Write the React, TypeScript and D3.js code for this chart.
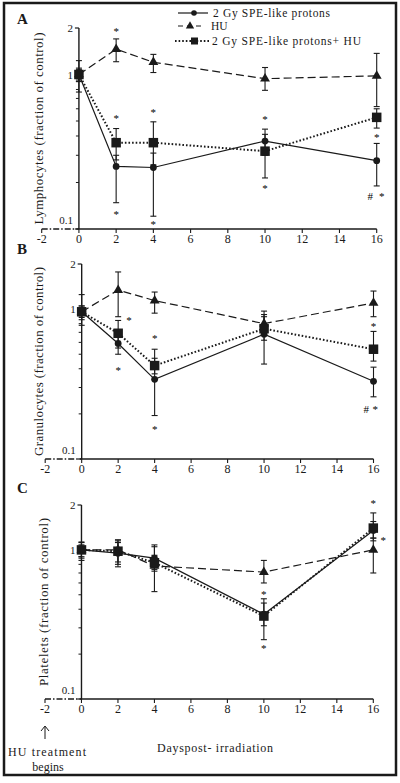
import React from "react";
import * as d3 from "d3";

const days = [0, 2, 4, 10, 16];
const xTickValues = [-2, 0, 2, 4, 6, 8, 10, 12, 14, 16];
const yMajorValues = [0.1, 1, 2];
const yMajorLabels = ["0.1", "1", "2"];
const yMinorValues = [0.2, 0.3, 0.4, 0.5, 0.6, 0.7, 0.8, 0.9];

const seriesNames = ["2 Gy SPE-like protons", "HU", "2 Gy SPE-like protons+ HU"];

// Panel A – Lymphocytes
const lymphProtons = [1.0, 0.254, 0.25, 0.371, 0.277];
const lymphProtonsLo = [0.92, 0.148, 0.121, 0.3, 0.19];
const lymphProtonsHi = [1.08, 0.3, 0.31, 0.443, 0.358];
const lymphHU = [1.0, 1.46, 1.2, 0.94, 0.98];
const lymphHULo = [0.9, 1.21, 1.03, 0.79, 0.62];
const lymphHUHi = [1.1, 1.7, 1.35, 1.11, 1.37];
const lymphCombo = [1.0, 0.362, 0.362, 0.319, 0.528];
const lymphComboLo = [0.77, 0.28, 0.26, 0.214, 0.45];
const lymphComboHi = [1.23, 0.447, 0.494, 0.41, 0.6];
const lymphMarks = [
  { day: 2, value: 1.94, label: "*" },
  { day: 2, value: 0.533, label: "*" },
  { day: 2, value: 0.1275, label: "*" },
  { day: 4, value: 0.58, label: "*" },
  { day: 4, value: 0.11, label: "*" },
  { day: 10, value: 0.52, label: "*" },
  { day: 10, value: 0.188, label: "*" },
  { day: 16, value: 0.4, label: "*" },
  { day: 15.65, value: 0.166, label: "#" },
  { day: 16.27, value: 0.166, label: "*" },
];

// Panel B – Granulocytes
const granProtons = [0.96, 0.59, 0.34, 0.68, 0.33];
const granProtonsLo = [0.85, 0.5, 0.195, 0.43, 0.26];
const granProtonsHi = [1.05, 0.68, 0.47, 0.89, 0.41];
const granHU = [0.96, 1.34, 1.14, 0.8, 1.1];
const granHULo = [0.88, 0.89, 0.94, 0.68, 0.89];
const granHUHi = [1.05, 1.77, 1.3, 0.97, 1.32];
const granCombo = [0.96, 0.69, 0.42, 0.74, 0.54];
const granComboLo = [0.78, 0.55, 0.37, 0.62, 0.45];
const granComboHi = [1.25, 0.84, 0.54, 0.92, 0.71];
const granMarks = [
  { day: 2.6, value: 0.853, label: "*" },
  { day: 2, value: 0.4, label: "*" },
  { day: 4, value: 0.654, label: "*" },
  { day: 4, value: 0.16, label: "*" },
  { day: 16, value: 0.78, label: "*" },
  { day: 15.6, value: 0.22, label: "#" },
  { day: 16.1, value: 0.22, label: "*" },
];

// Panel C – Platelets
const pltProtons = [1.0, 0.95, 0.88, 0.37, 1.35];
const pltProtonsLo = [0.88, 0.8, 0.72, 0.25, 1.15];
const pltProtonsHi = [1.12, 1.12, 1.05, 0.47, 1.55];
const pltHU = [1.0, 1.0, 0.78, 0.71, 1.0];
const pltHULo = [0.9, 0.83, 0.525, 0.6, 0.7];
const pltHUHi = [1.08, 1.17, 0.92, 0.85, 1.2];
const pltCombo = [1.0, 0.98, 0.82, 0.36, 1.4];
const pltComboLo = [0.85, 0.77, 0.74, 0.31, 1.2];
const pltComboHi = [1.13, 1.15, 1.08, 0.44, 1.77];
const pltMarks = [
  { day: 10, value: 0.51, label: "*" },
  { day: 10, value: 0.224, label: "*" },
  { day: 16, value: 2.1, label: "*" },
  { day: 16.55, value: 1.18, label: "*" },
];

const FONT = "'Liberation Serif', 'Times New Roman', serif";
const INK = "#1a1a1a";

type Series = { v: number[]; lo: number[]; hi: number[] };
type PanelProps = {
  letter: string;
  title: string;
  titleLen: number;
  xRange: [number, number];
  yRange: [number, number];
  titleX: number;
  letterY: number;
  protons: Series;
  hu: Series;
  combo: Series;
  marks: { day: number; value: number; label: string }[];
};

function Panel(p: PanelProps) {
  const x = d3.scaleLinear().domain([-2, 16]).range(p.xRange);
  const y = d3.scaleLog().domain([0.1, 2]).range(p.yRange);
  const ax = x(0);
  const base = y(0.1);
  const line = (vals: number[]) =>
    d3.line<number>().x((_, i) => x(days[i])).y((d) => y(d))(vals) || "";
  const tri = d3.symbol().type(d3.symbolTriangle).size(42)() || "";
  const errBars = (s: Series, key: string) =>
    days.map((d, i) => (
      <g key={key + i} stroke={INK} strokeWidth={1.1}>
        <line x1={x(d)} x2={x(d)} y1={y(s.lo[i])} y2={y(s.hi[i])} />
        <line x1={x(d) - 3} x2={x(d) + 3} y1={y(s.lo[i])} y2={y(s.lo[i])} />
        <line x1={x(d) - 3} x2={x(d) + 3} y1={y(s.hi[i])} y2={y(s.hi[i])} />
      </g>
    ));
  const titleY = (p.yRange[0] + p.yRange[1]) / 2;
  return (
    <g fontFamily={FONT} fill={INK}>
      <text x={17} y={p.letterY} fontSize={15} fontWeight="bold">
        {p.letter}
      </text>
      {/* y axis */}
      <line x1={ax} x2={ax} y1={p.yRange[0]} y2={p.yRange[1]} stroke={INK} strokeWidth={1.4} />
      {yMajorValues.map((v, i) => (
        <g key={"M" + v}>
          <line x1={ax - 4} x2={ax} y1={y(v)} y2={y(v)} stroke={INK} strokeWidth={1.2} />
          <text
            x={ax - 6}
            y={y(v) + (v === 0.1 ? -5 : 4)}
            fontSize={11}
            textAnchor="end"
          >
            {yMajorLabels[i]}
          </text>
        </g>
      ))}
      {yMinorValues.map((v) => (
        <line key={"m" + v} x1={ax - 3} x2={ax} y1={y(v)} y2={y(v)} stroke={INK} strokeWidth={1} />
      ))}
      {/* x axis */}
      <line x1={x(-2)} x2={ax} y1={base} y2={base} stroke={INK} strokeWidth={1.3} strokeDasharray="6,2,1.5,2" />
      <line x1={ax} x2={x(16)} y1={base} y2={base} stroke={INK} strokeWidth={1.4} />
      {xTickValues.map((t) => (
        <g key={"x" + t}>
          <line x1={x(t)} x2={x(t)} y1={base} y2={base + 4} stroke={INK} strokeWidth={1.1} />
          <text x={x(t)} y={base + 14} fontSize={12} textAnchor="middle">
            {t}
          </text>
        </g>
      ))}
      <text
        transform={`translate(${p.titleX},${titleY}) rotate(-90)`}
        fontSize={13}
        textAnchor="middle"
        dominantBaseline="central"
        textLength={p.titleLen}
        lengthAdjust="spacing"
      >
        {p.title}
      </text>
      {/* lines */}
      <path d={line(p.hu.v)} fill="none" stroke={INK} strokeWidth={1.2} strokeDasharray="8,4" />
      <path d={line(p.protons.v)} fill="none" stroke={INK} strokeWidth={1.2} />
      <path d={line(p.combo.v)} fill="none" stroke={INK} strokeWidth={2} strokeDasharray="1.6,2" />
      {/* error bars */}
      {errBars(p.hu, "eh")}
      {errBars(p.protons, "ep")}
      {errBars(p.combo, "ec")}
      {/* markers */}
      {days.map((d, i) => (
        <path key={"t" + i} d={tri} transform={`translate(${x(d)},${y(p.hu.v[i])})`} fill={INK} />
      ))}
      {days.map((d, i) => (
        <circle key={"c" + i} cx={x(d)} cy={y(p.protons.v[i])} r={3.4} fill={INK} />
      ))}
      {days.map((d, i) => (
        <rect key={"s" + i} x={x(d) - 4.75} y={y(p.combo.v[i]) - 4.75} width={9.5} height={9.5} fill={INK} />
      ))}
      {p.marks.map((m, i) => (
        <text key={"a" + i} x={x(m.day)} y={y(m.value) + 5} fontSize={11} textAnchor="middle" fill="#000">
          {m.label}
        </text>
      ))}
    </g>
  );
}

function Legend() {
  const rows = [13, 26, 41];
  const tri = d3.symbol().type(d3.symbolTriangle).size(30)() || "";
  return (
    <g fontFamily={FONT} fill={INK} fontSize={11.5}>
      <line x1={178} x2={208} y1={rows[0]} y2={rows[0]} stroke={INK} strokeWidth={1.2} />
      <circle cx={194} cy={rows[0]} r={2.8} fill={INK} />
      <text x={213} y={rows[0] + 3.5} textLength={117} lengthAdjust="spacing">{seriesNames[0]}</text>
      <line x1={178} x2={201} y1={rows[1]} y2={rows[1]} stroke={INK} strokeWidth={1.2} strokeDasharray="5,4" />
      <path d={tri} transform={`translate(190,${rows[1]})`} fill={INK} />
      <text x={211} y={rows[1] + 3.5}>{seriesNames[1]}</text>
      <line x1={175} x2={209} y1={rows[2]} y2={rows[2]} stroke={INK} strokeWidth={2} strokeDasharray="1.6,2" />
      <rect x={191} y={rows[2] - 3.5} width={7} height={7} fill={INK} />
      <text x={212} y={rows[2] + 3.5} textLength={149} lengthAdjust="spacing">{seriesNames[2]}</text>
    </g>
  );
}

export default function App() {
  return (
    <svg width={400} height={783} style={{ position: "absolute", left: 0, top: 0, background: "#fff" }}>
      <rect x={0} y={0} width={400} height={783} fill="#fff" />
      <rect x={4} y={3} width={392} height={772} fill="none" stroke={INK} strokeWidth={2.5} />
      <Legend />
      <Panel
        letter="A"
        title="Lymphocytes (fraction of control)"
        titleLen={192}
        xRange={[41.7, 376.7]}
        yRange={[229, 28]}
        titleX={38}
        letterY={24}
        protons={{ v: lymphProtons, lo: lymphProtonsLo, hi: lymphProtonsHi }}
        hu={{ v: lymphHU, lo: lymphHULo, hi: lymphHUHi }}
        combo={{ v: lymphCombo, lo: lymphComboLo, hi: lymphComboHi }}
        marks={lymphMarks}
      />
      <Panel
        letter="B"
        title="Granulocytes (fraction of  control)"
        titleLen={189}
        xRange={[45.2, 373.5]}
        yRange={[459, 264]}
        titleX={38}
        letterY={254}
        protons={{ v: granProtons, lo: granProtonsLo, hi: granProtonsHi }}
        hu={{ v: granHU, lo: granHULo, hi: granHUHi }}
        combo={{ v: granCombo, lo: granComboLo, hi: granComboHi }}
        marks={granMarks}
      />
      <Panel
        letter="C"
        title="Platelets (fraction of  control)"
        titleLen={168}
        xRange={[45, 373.3]}
        yRange={[699, 505]}
        titleX={43}
        letterY={493}
        protons={{ v: pltProtons, lo: pltProtonsLo, hi: pltProtonsHi }}
        hu={{ v: pltHU, lo: pltHULo, hi: pltHUHi }}
        combo={{ v: pltCombo, lo: pltComboLo, hi: pltComboHi }}
        marks={pltMarks}
      />
      <g fontFamily={FONT} fill={INK} fontSize={12}>
        <line x1={45} x2={45} y1={739} y2={727} stroke={INK} strokeWidth={1} />
        <path d="M41,731 L45,726 L49,731" fill="none" stroke={INK} strokeWidth={1} />
        <text x={8} y={756} textLength={78} lengthAdjust="spacing">HU  treatment</text>
        <text x={48} y={771} textAnchor="middle">begins</text>
        <text x={215} y={752} textAnchor="middle" textLength={116} lengthAdjust="spacing">
          Dayspost- irradiation
        </text>
      </g>
    </svg>
  );
}
